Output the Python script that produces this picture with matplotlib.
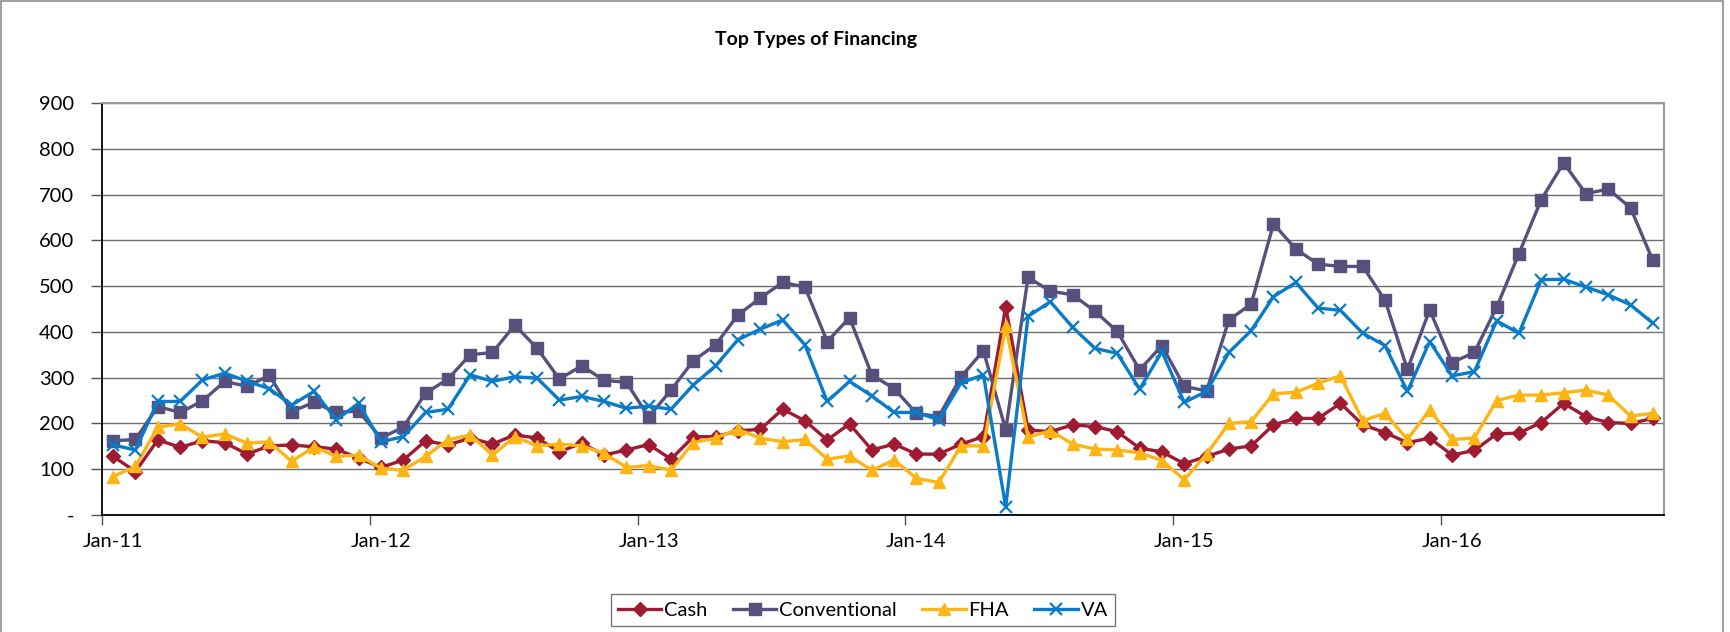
import matplotlib
matplotlib.use("Agg")
import matplotlib.pyplot as plt
from matplotlib.patches import Rectangle
import numpy as np

# Monthly counts, Jan-11 through Oct-16
cash = [128, 95, 164, 148, 162, 158, 133, 151, 153, 149, 144, 124,
        104, 120, 162, 153, 168, 155, 175, 168, 138, 157, 131, 142,
        154, 122, 171, 171, 184, 187, 231, 206, 164, 199, 142, 155,
        133, 133, 155, 171, 455, 186, 182, 197, 193, 182, 146, 138,
        112, 128, 144, 151, 197, 211, 211, 244, 197, 180, 158, 168,
        131, 141, 177, 179, 202, 244, 215, 202, 200, 211]
conventional = [162, 165, 237, 224, 249, 292, 281, 305, 226, 246, 224, 227,
                168, 192, 266, 297, 350, 355, 415, 364, 297, 326, 294, 290,
                214, 273, 337, 372, 437, 474, 508, 498, 379, 431, 306, 276,
                222, 215, 302, 359, 186, 519, 489, 481, 445, 401, 317, 370,
                281, 271, 426, 461, 636, 581, 548, 543, 543, 469, 318, 448,
                333, 355, 454, 571, 689, 769, 702, 712, 671, 556]
fha = [84, 106, 192, 199, 170, 177, 157, 160, 117, 149, 128, 131,
       102, 98, 128, 164, 175, 131, 171, 151, 155, 151, 135, 104,
       108, 98, 158, 168, 187, 168, 160, 165, 122, 129, 98, 120,
       80, 71, 151, 151, 412, 170, 184, 155, 144, 142, 136, 119,
       77, 133, 200, 204, 265, 268, 288, 304, 206, 222, 165, 230,
       165, 168, 250, 262, 262, 267, 273, 262, 216, 222]
va = [153, 142, 248, 248, 295, 310, 292, 276, 240, 270, 208, 244,
      160, 171, 224, 231, 306, 292, 302, 299, 251, 259, 248, 233,
      238, 231, 284, 326, 383, 406, 426, 372, 248, 292, 260, 224,
      224, 208, 289, 306, 18, 434, 466, 410, 364, 353, 275, 357,
      246, 270, 355, 403, 477, 508, 452, 447, 397, 370, 270, 379,
      304, 313, 424, 397, 514, 515, 498, 481, 459, 419]

year_labels = ["Jan-11", "Jan-12", "Jan-13", "Jan-14", "Jan-15", "Jan-16"]
y_ticks = [0, 100, 200, 300, 400, 500, 600, 700, 800, 900]
y_tick_labels = ["-", "100", "200", "300", "400", "500", "600", "700", "800", "900"]

plt.rcParams["font.family"] = ["Lato", "DejaVu Sans"]

fig = plt.figure(figsize=(17.31, 6.32), dpi=100)
W, H = 1731, 632
ax = fig.add_axes([102 / W, 1 - 515 / H, (1664 - 102) / W, (515 - 103) / H])

# chart-area frame
fig.patches.append(Rectangle((1 / W, -0.05), 1722 / W, 1.05 - 1 / H,
                             transform=fig.transFigure, fill=False,
                             edgecolor="#8c8c8c", linewidth=1.2))

n = len(cash)
x = np.arange(n) + 0.5

series = [
    ("Cash", cash, "#9E1B32", "D", 7),
    ("Conventional", conventional, "#584F7D", "s", 8),
    ("FHA", fha, "#FDB515", "^", 9),
    ("VA", va, "#0A7BC9", "x", 9),
]
for name, vals, color, marker, ms in series:
    kw = dict(color=color, linewidth=2.4, marker=marker, markersize=ms, label=name)
    if marker == "x":
        kw.update(markeredgewidth=1.6)
    else:
        kw.update(markeredgecolor=color, markerfacecolor=color)
    ax.plot(x, vals, **kw)

ax.set_xlim(0, n)
ax.set_ylim(0, 900)
ax.set_yticks(y_ticks)
ax.set_yticklabels(y_tick_labels, fontsize=14.5)
ax.tick_params(axis="y", direction="out", length=8, width=1, color="#555555", pad=12)

# year boundaries get tick marks; labels sit under each January point
ax.set_xticks(np.arange(0, n, 12))
ax.set_xticklabels([])
ax.set_xticks(np.arange(0, n, 12) + 0.5, minor=True)
ax.set_xticklabels(year_labels, minor=True, fontsize=14.5)
ax.tick_params(axis="x", which="major", direction="out", length=7, width=1, color="#555555")
ax.tick_params(axis="x", which="minor", length=0, pad=13)

ax.grid(axis="y", which="major", color="#6e6e6e", linewidth=1)
ax.set_axisbelow(True)
for side in ("top", "right"):
    ax.spines[side].set_color("#9a9a9a")
    ax.spines[side].set_linewidth(1.5)
for side in ("left", "bottom"):
    ax.spines[side].set_color("#000000")
    ax.spines[side].set_linewidth(1.3)

fig.text(816 / W, 1 - 39 / H, "Top Types of Financing", ha="center", va="center",
         fontsize=14, fontweight="bold")

leg = fig.legend(loc="center", bbox_to_anchor=(863 / W, 1 - 610 / H), ncol=4,
                 fontsize=14.5, frameon=True, fancybox=False, edgecolor="#555555",
                 handlelength=2.15, columnspacing=1.25, handletextpad=0.15,
                 borderpad=0.35)
leg.get_frame().set_linewidth(1)

fig.savefig("out.png", dpi=100)
